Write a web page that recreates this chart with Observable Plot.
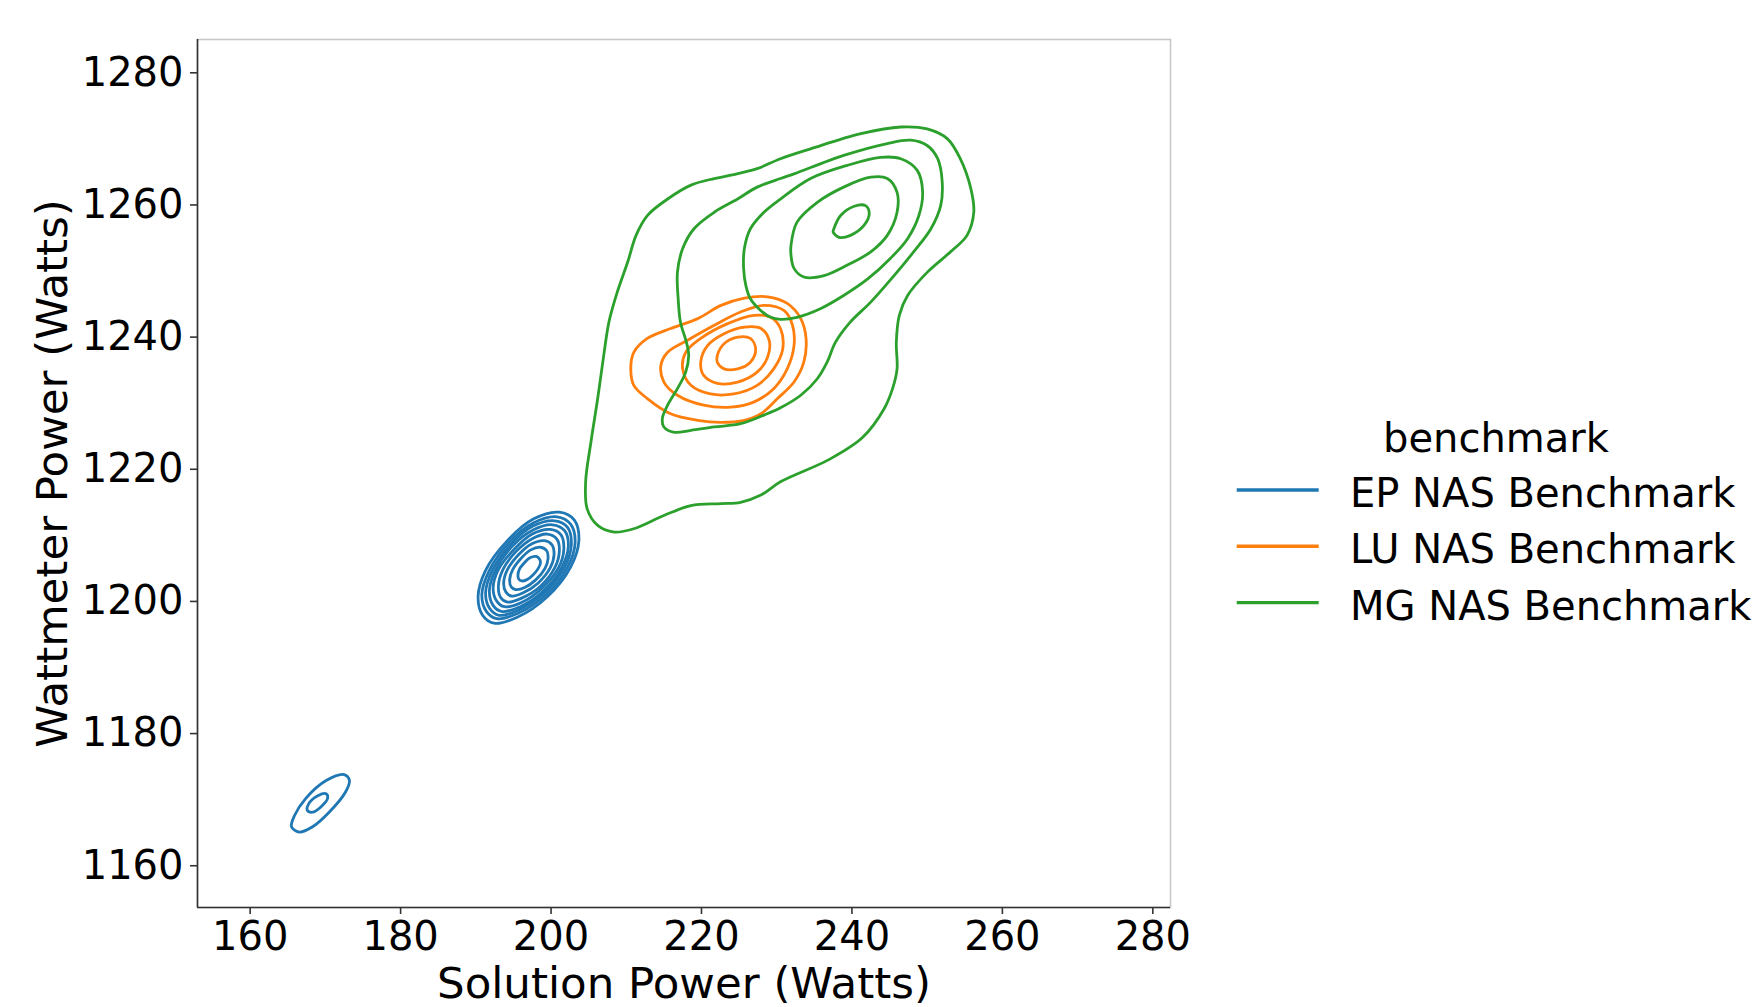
<!DOCTYPE html>
<html>
<head>
<meta charset="utf-8">
<script src="https://cdn.jsdelivr.net/npm/d3@7"></script>
<script src="https://cdn.jsdelivr.net/npm/@observablehq/plot@0.6"></script>
<style>
  html, body { margin: 0; padding: 0; background: #fff; }
  #wrap { position: relative; width: 1756px; height: 1007px; font-family: "DejaVu Sans", sans-serif; }
  #chart { position: absolute; left: 0; top: 0; }
  #legend { position: absolute; left: 1220px; top: 0; }
</style>
</head>
<body>
<div id="wrap"><div id="chart"></div><svg id="legend" width="536" height="700"></svg></div>
<script>
// ---------- data ----------
const benchmarks = ["EP NAS Benchmark", "LU NAS Benchmark", "MG NAS Benchmark"];
const colors = ["#1f77b4", "#ff7f0e", "#2ca02c"];
const legendTitle = "benchmark";
const xLabel = "Solution Power (Watts)";
const yLabel = "Wattmeter Power (Watts)";
const xTicks = [160, 180, 200, 220, 240, 260, 280];
const yTicks = [1160, 1180, 1200, 1220, 1240, 1260, 1280];
const xDomain = [153.0, 282.35];
const yDomain = [1153.68, 1285.04];

// KDE contour lines, traced as [x, y] points (closed curves)
const epContours = [
  [[201.1,1213.5],[203.1,1212.3],[203.7,1209.2],[202.6,1205.2],[199.5,1200.7],[195.5,1197.6],[192.4,1196.7],[190.9,1197.9],[190.3,1200.7],[191.3,1204.7],[194.2,1209.2],[197.7,1212.5]],
  [[200.8,1212.8],[202.6,1211.7],[203.2,1208.9],[202.2,1205.2],[199.3,1201.0],[195.6,1198.2],[192.8,1197.4],[191.4,1198.5],[190.8,1201.0],[191.8,1204.7],[194.4,1208.9],[197.7,1211.9]],
  [[200.5,1212.2],[202.2,1211.2],[202.7,1208.6],[201.8,1205.2],[199.1,1201.3],[195.7,1198.7],[193.1,1197.9],[191.8,1199.0],[191.3,1201.3],[192.2,1204.7],[194.6,1208.6],[197.6,1211.4]],
  [[200.2,1211.6],[201.8,1210.7],[202.3,1208.3],[201.4,1205.1],[199.0,1201.6],[195.9,1199.2],[193.4,1198.5],[192.3,1199.4],[191.8,1201.6],[192.6,1204.7],[194.8,1208.3],[197.6,1210.8]],
  [[199.9,1210.9],[201.3,1210.1],[201.7,1207.9],[201.0,1205.1],[198.8,1202.0],[196.0,1199.8],[193.8,1199.2],[192.8,1200.0],[192.3,1202.0],[193.0,1204.8],[195.1,1207.9],[197.5,1210.2]],
  [[199.5,1210.2],[200.8,1209.4],[201.1,1207.5],[200.5,1205.1],[198.6,1202.3],[196.1,1200.5],[194.2,1199.9],[193.3,1200.6],[193.0,1202.3],[193.6,1204.8],[195.3,1207.5],[197.5,1209.5]],
  [[199.1,1209.2],[200.1,1208.6],[200.4,1207.1],[199.9,1205.1],[198.3,1202.8],[196.3,1201.3],[194.8,1200.8],[194.0,1201.4],[193.7,1202.8],[194.2,1204.8],[195.7,1207.1],[197.4,1208.7]],
  [[198.6,1208.2],[199.4,1207.7],[199.6,1206.5],[199.2,1205.0],[198.0,1203.3],[196.5,1202.1],[195.3,1201.8],[194.7,1202.2],[194.5,1203.3],[194.9,1204.8],[196.0,1206.5],[197.3,1207.8]],
  [[198.0,1206.8],[198.4,1206.5],[198.6,1205.9],[198.3,1205.0],[197.6,1204.0],[196.8,1203.3],[196.1,1203.1],[195.7,1203.4],[195.6,1204.0],[195.8,1204.9],[196.5,1205.9],[197.2,1206.6]],
  [[172.5,1173.8],[173.2,1172.9],[172.7,1171.2],[170.5,1168.1],[168.3,1165.9],[166.5,1165.1],[165.5,1165.9],[165.9,1167.6],[167.4,1170.2],[170.1,1172.9]],
  [[170.1,1170.9],[170.3,1170.2],[169.4,1168.9],[168.3,1168.1],[167.6,1168.4],[167.8,1169.4],[169.0,1170.6]]
];
const luContours = [
  [[210.6,1235.2],[211.0,1237.7],[212.8,1239.8],[215.9,1241.3],[219.5,1242.8],[222.6,1244.8],[225.7,1245.9],[228.8,1246.1],[231.4,1245.1],[233.2,1242.8],[233.9,1239.8],[233.6,1236.2],[232.3,1233.2],[230.1,1230.7],[227.9,1228.4],[225.7,1227.4],[222.6,1227.1],[219.5,1227.4],[215.9,1228.4],[212.8,1230.7],[211.0,1232.7]],
  [[214.6,1235.7],[215.5,1237.7],[218.1,1239.5],[221.7,1241.8],[225.2,1243.8],[228.3,1244.8],[231.0,1244.0],[232.1,1241.8],[232.3,1238.7],[231.4,1235.2],[229.6,1232.2],[227.0,1230.2],[223.9,1229.4],[220.3,1229.7],[216.8,1231.2],[215.0,1233.2]],
  [[217.5,1235.2],[217.9,1237.7],[219.9,1239.8],[223.4,1242.0],[227.0,1243.3],[229.2,1243.0],[230.5,1241.3],[230.8,1238.2],[229.6,1235.2],[227.4,1232.7],[224.3,1231.4],[221.2,1231.4],[218.6,1232.7]],
  [[219.9,1236.2],[220.8,1238.7],[223.0,1240.5],[225.7,1241.5],[227.9,1241.3],[229.0,1239.5],[228.8,1237.0],[227.4,1234.7],[224.8,1233.2],[222.1,1233.0],[220.3,1234.2]],
  [[222.1,1237.2],[223.0,1239.0],[224.8,1240.0],[226.5,1239.8],[227.2,1238.2],[226.5,1236.2],[224.8,1235.2],[223.0,1235.2],[222.1,1236.2]]
];
const mgContours = [
  [[204.6,1218.1],[205.3,1224.1],[206.2,1230.7],[207.0,1237.2],[207.7,1242.3],[208.8,1246.8],[210.2,1251.4],[211.3,1255.4],[212.8,1258.4],[215.5,1260.9],[218.6,1263.0],[221.7,1264.0],[223.9,1264.5],[227.4,1265.5],[230.5,1267.0],[234.5,1268.5],[241.2,1270.8],[246.5,1271.8],[250.0,1271.5],[252.7,1270.0],[254.4,1267.0],[255.8,1262.5],[256.2,1258.9],[255.3,1255.4],[253.1,1252.9],[250.0,1249.8],[247.4,1246.3],[246.3,1243.3],[245.9,1239.2],[246.0,1235.2],[245.4,1232.2],[244.3,1229.2],[241.4,1224.8],[237.0,1221.5],[230.5,1218.1],[227.9,1216.1],[225.2,1215.0],[222.6,1214.8],[218.6,1214.5],[215.0,1213.0],[211.0,1211.0],[208.4,1210.5],[206.2,1211.5],[204.8,1214.0]],
  [[216.4,1225.6],[215.0,1226.4],[214.8,1227.7],[215.5,1229.7],[216.8,1232.2],[217.9,1234.7],[218.3,1237.2],[218.0,1239.2],[217.2,1242.3],[216.9,1245.8],[216.8,1249.8],[217.5,1253.4],[219.0,1256.4],[221.7,1258.9],[224.8,1260.9],[227.4,1262.7],[230.5,1264.0],[232.3,1264.7],[238.9,1267.5],[244.7,1269.3],[247.8,1269.8],[250.0,1269.0],[251.4,1267.0],[252.0,1263.5],[251.8,1259.9],[250.5,1256.4],[248.2,1252.9],[245.6,1249.3],[242.5,1245.3],[239.8,1242.3],[237.8,1239.2],[236.7,1236.2],[235.4,1233.7],[233.2,1231.2],[230.5,1229.3],[228.3,1228.2],[225.2,1226.9],[221.7,1226.4],[218.6,1225.9]],
  [[230.5,1260.9],[228.3,1258.9],[226.5,1256.4],[225.7,1253.4],[225.6,1250.4],[225.9,1247.8],[226.5,1245.8],[227.9,1244.0],[229.2,1243.0],[230.5,1242.7],[232.7,1243.0],[235.8,1244.3],[238.9,1246.3],[242.1,1248.8],[245.1,1251.9],[247.4,1254.9],[248.9,1258.4],[249.4,1261.9],[248.7,1265.2],[246.5,1267.0],[243.8,1267.2],[239.4,1266.0],[234.5,1264.0]],
  [[231.9,1253.9],[232.7,1257.4],[235.4,1260.4],[238.9,1262.7],[242.5,1264.2],[244.7,1264.0],[246.0,1261.9],[246.0,1258.9],[244.7,1255.4],[242.5,1252.9],[239.4,1250.9],[236.3,1249.3],[233.6,1249.1],[232.3,1250.4],[231.9,1252.4]],
  [[237.6,1256.4],[238.5,1258.4],[240.3,1259.8],[241.8,1259.9],[242.3,1258.7],[241.6,1256.9],[239.8,1255.4],[238.3,1255.1],[237.5,1255.9]]
];

// ---------- build table ----------
const rows = [];
[epContours, luContours, mgContours].forEach((set, bi) =>
  set.forEach((ring, k) =>
    ring.forEach(([x, y]) => rows.push({benchmark: benchmarks[bi], id: bi * 100 + k, x, y}))));

const font = "DejaVu Sans";
const chart = Plot.plot({
  width: 1200,
  height: 1007,
  marginLeft: 197,
  marginRight: 30,
  marginTop: 39,
  marginBottom: 100,
  style: {fontFamily: font, background: "white", color: "#000", overflow: "visible"},
  x: {domain: xDomain, label: null},
  y: {domain: yDomain, label: null},
  color: {domain: benchmarks, range: colors},
  marks: [
    Plot.frame({stroke: "#c8c8c8", strokeWidth: 1.6}),
    Plot.line(rows, {x: "x", y: "y", z: "id", stroke: "benchmark", strokeWidth: 2.8, curve: "catmull-rom-closed"}),
    Plot.ruleX([xDomain[0]], {stroke: "#333", strokeWidth: 1.6}),
    Plot.ruleY([yDomain[0]], {stroke: "#333", strokeWidth: 1.6}),
    Plot.axisX({ticks: xTicks, tickSize: 7, tickPadding: 7, fontSize: 40, tickFormat: "d", stroke: "#333", strokeWidth: 1.6, label: null}),
    Plot.axisY({ticks: yTicks, tickSize: 7, tickPadding: 7, fontSize: 40, tickFormat: "d", stroke: "#333", strokeWidth: 1.6, label: null}),
    Plot.text([xLabel], {text: d => d, frameAnchor: "bottom", dy: 90.7, textAnchor: "middle", lineAnchor: "bottom", fontSize: 43.5, fill: "#000"}),
    Plot.text([yLabel], {text: d => d, frameAnchor: "left", dx: -130.7, rotate: -90, textAnchor: "middle", lineAnchor: "bottom", fontSize: 43.5, fill: "#000"})
  ]
});
document.getElementById("chart").appendChild(chart);

// ---------- legend ----------
const lg = d3.select("#legend").style("font-family", font);
lg.append("text").attr("x", 276).attr("y", 452).attr("text-anchor", "middle")
  .attr("font-size", 40).attr("fill", "#000").text(legendTitle);
benchmarks.forEach((b, i) => {
  const y = 490 + i * 56.3;
  lg.append("line").attr("x1", 16.7).attr("x2", 98.7).attr("y1", y).attr("y2", y)
    .attr("stroke", colors[i]).attr("stroke-width", 3.4);
  lg.append("text").attr("x", 130).attr("y", y + 17).attr("font-size", 40).attr("fill", "#000").text(b);
});
</script>
</body>
</html>
